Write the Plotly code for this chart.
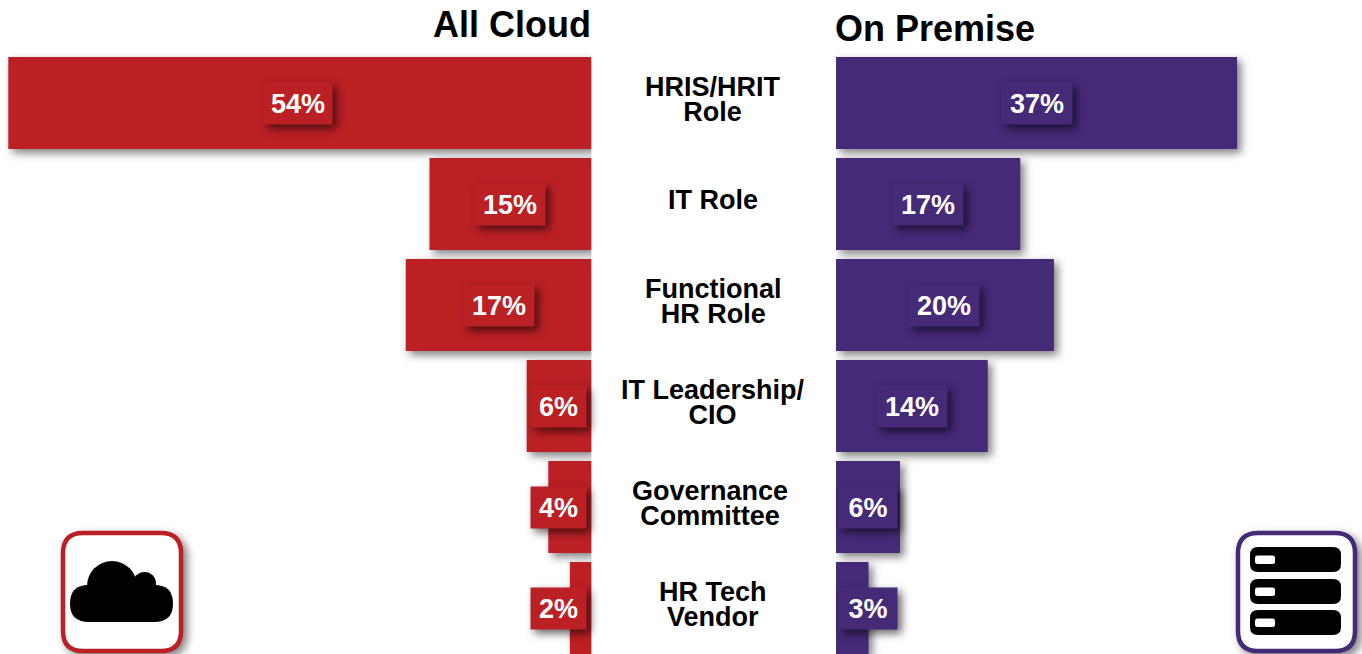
import plotly.graph_objects as go

W, H = 1362, 654
RED, PURPLE = "#BB2025", "#452A78"

categories = ["HRIS/HRIT Role", "IT Role", "Functional HR Role", "IT Leadership/ CIO", "Governance Committee", "HR Tech Vendor"]
category_lines = ["HRIS/HRIT<br>Role", "IT Role", "Functional<br>HR Role", "IT Leadership/<br>CIO", "Governance<br>Committee", "HR Tech<br>Vendor"]
cloud_values = [54, 15, 17.2, 6, 4, 2]
premise_values = [37, 17, 20.1, 14, 5.9, 3]
cloud_labels = ["54%", "15%", "17%", "6%", "4%", "2%"]
premise_labels = ["37%", "17%", "20%", "14%", "6%", "3%"]

# label placement (page pixels)
cloud_label_x = [298, 510, 499, 558.5, 558.5, 558.5]
premise_label_x = [1037, 928, 944, 911.5, 868, 868]
cloud_box_w = [66, 68, 68, 53, 53, 53]
premise_box_w = [68, 68, 68, 68, 56, 56]
cat_x = [713, 713, 713, 713, 710, 713]

def px(x): return x / W
def py(y): return 1 - y / H

fig = go.Figure()
fig.add_bar(y=categories, x=cloud_values, orientation="h", width=0.91, marker=dict(color=RED, line_width=0),
            xaxis="x", yaxis="y", showlegend=False)
fig.add_bar(y=categories, x=premise_values, orientation="h", width=0.91, marker=dict(color=PURPLE, line_width=0),
            xaxis="x2", yaxis="y", showlegend=False)

ann = []
def label(x, i, text, color, w):
    ann.append(dict(xref="paper", x=px(x), xanchor="center", yref="y", y=i, yanchor="middle", text=text,
                    showarrow=False, bgcolor=color, width=w, height=39, align="center", valign="middle",
                    font=dict(family="Liberation Sans", size=27, color="white", weight="bold")))
for i in range(6):
    label(cloud_label_x[i], i, cloud_labels[i], RED, cloud_box_w[i])
    label(premise_label_x[i], i, premise_labels[i], PURPLE, premise_box_w[i])
    ann.append(dict(xref="paper", x=px(cat_x[i]), xanchor="center", yref="y", y=i, yanchor="middle",
                    yshift=4, text=category_lines[i], showarrow=False, align="center",
                    font=dict(family="Liberation Sans", size=27, color="black", weight="bold")))
for x, y, t in [(512, 25, "All Cloud"), (935, 28, "On Premise")]:
    ann.append(dict(xref="paper", yref="paper", x=px(x), y=py(y), xanchor="center", yanchor="middle", text=t,
                    showarrow=False, font=dict(family="Liberation Sans", size=36, color="black", weight="bold")))

def rrect(x0, y0, x1, y1, r):
    return (f"M{px(x0+r)},{py(y0)} L{px(x1-r)},{py(y0)} Q{px(x1)},{py(y0)} {px(x1)},{py(y0+r)} "
            f"L{px(x1)},{py(y1-r)} Q{px(x1)},{py(y1)} {px(x1-r)},{py(y1)} "
            f"L{px(x0+r)},{py(y1)} Q{px(x0)},{py(y1)} {px(x0)},{py(y1-r)} "
            f"L{px(x0)},{py(y0+r)} Q{px(x0)},{py(y0)} {px(x0+r)},{py(y0)} Z")

shapes = []
def path(d, fill, line=None, lw=0):
    shapes.append(dict(type="path", xref="paper", yref="paper", path=d, fillcolor=fill,
                       line=dict(color=line or fill, width=lw)))
def circle(cx, cy, r, fill):
    shapes.append(dict(type="circle", xref="paper", yref="paper", x0=px(cx-r), x1=px(cx+r), y0=py(cy+r), y1=py(cy-r),
                       fillcolor=fill, line_width=0))

path(rrect(63, 533, 181, 651, 20), "white", RED, 4.5)
circle(112, 586, 25, "black")
circle(144.5, 583.5, 11.5, "black")
path(rrect(70, 585, 173, 622, 18.5), "black")

path(rrect(1238, 533, 1355, 651, 20), "white", PURPLE, 4.5)
for y0 in (547, 579, 610):
    path(rrect(1250, y0, 1341, y0 + 25, 8), "black")
    path(rrect(1255, y0 + 8.5, 1275, y0 + 17, 2.5), "white")

fig.update_layout(
    width=W, height=H, margin=dict(l=0, r=0, t=0, b=0), paper_bgcolor="white", plot_bgcolor="rgba(0,0,0,0)",
    barmode="overlay", showlegend=False, annotations=ann, shapes=shapes,
    xaxis=dict(domain=[0, 591.5 / W], range=[591.5 / 10.8, 0], visible=False),
    xaxis2=dict(domain=[836 / W, 1], range=[0, (W - 836) / 10.84], visible=False, anchor="y"),
    yaxis=dict(domain=[0, 1], range=[H / 101 - 1.02, -1.02], visible=False, type="category",
               categoryorder="array", categoryarray=categories),
)

post = """
document.body.style.margin='0';document.body.style.overflow='hidden';
var st=document.createElement('style');
st.textContent=".bars .point path{filter:drop-shadow(4px 4px 4px rgba(0,0,0,.5));}"+
 ".annotation rect.bg{filter:drop-shadow(4px 4px 4px rgba(0,0,0,.6));}";
document.head.appendChild(st);
document.querySelectorAll('.shapelayer path').forEach(function(p){
 if(parseFloat(p.style.strokeWidth)>3){p.style.filter='drop-shadow(4px 4px 4px rgba(0,0,0,.5))';}
});
document.querySelectorAll('.annotation-text').forEach(function(t){
 var l=t.querySelectorAll('tspan.line');
 if(l.length==2){l[0].setAttribute('dy','5px');l[1].setAttribute('dy','30px');}
});
"""
fig.write_html("out.html", post_script=post, config=dict(displayModeBar=False))
